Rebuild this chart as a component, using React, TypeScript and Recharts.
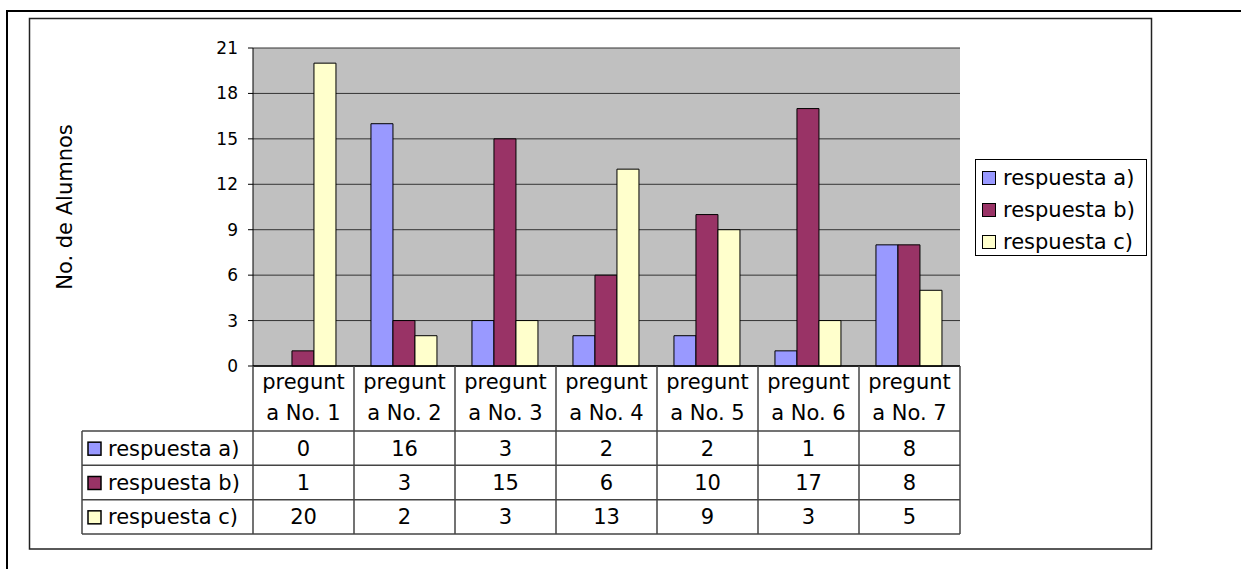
import React from 'react';
import { BarChart, Bar, XAxis, YAxis, CartesianGrid, Legend } from 'recharts';

const categories = [
  'pregunta No. 1',
  'pregunta No. 2',
  'pregunta No. 3',
  'pregunta No. 4',
  'pregunta No. 5',
  'pregunta No. 6',
  'pregunta No. 7',
];
const respuestaA = [0, 16, 3, 2, 2, 1, 8];
const respuestaB = [1, 3, 15, 6, 10, 17, 8];
const respuestaC = [20, 2, 3, 13, 9, 3, 5];
const yTicks = [0, 3, 6, 9, 12, 15, 18, 21];
const axisTitle = 'No. de Alumnos';

const series = [
  { key: 'a', name: 'respuesta a)', color: '#9999FF', values: respuestaA },
  { key: 'b', name: 'respuesta b)', color: '#993366', values: respuestaB },
  { key: 'c', name: 'respuesta c)', color: '#FFFFCC', values: respuestaC },
];

const data = categories.map((name, i) => {
  const row: Record<string, string | number> = { name };
  series.forEach(s => {
    row[s.key] = s.values[i];
  });
  return row;
});

const FONT = '"DejaVu Sans", Verdana, sans-serif';
const TABLE_H = 168;
const HEADER_H = 65;
const LABEL_LEFT = 82;
const LINE = '#444';

// Excel wraps the category name by characters inside the narrow column
const splitLabel = (text: string) => [text.slice(0, 7), text.slice(7)];

function TableTick(props: any) {
  const { x, y, payload, index, width } = props;
  const half = width ? width / categories.length / 2 : payload.offset;
  const left = x - half;
  const right = x + half;
  const rowH = (TABLE_H - HEADER_H) / series.length;
  const [l1, l2] = splitLabel(String(payload.value));
  const i = categories.indexOf(payload.value);

  return (
    <g fontFamily={FONT} fontSize={21} fill="#000">
      {index === 0 && <line x1={left} y1={y} x2={left} y2={y + TABLE_H} stroke={LINE} strokeWidth={1.5} />}
      <line x1={right} y1={y} x2={right} y2={y + TABLE_H} stroke={LINE} strokeWidth={1.5} />
      <text x={x} y={y + 23} textAnchor="middle">{l1}</text>
      <text x={x} y={y + 54} textAnchor="middle">{l2}</text>
      {series.map((s, r) => {
        const top = y + HEADER_H + r * rowH;
        return (
          <g key={s.key}>
            <line x1={left} y1={top} x2={right} y2={top} stroke={LINE} strokeWidth={1.5} />
            <text x={x} y={top + rowH / 2 + 7.5} textAnchor="middle">{s.values[i]}</text>
          </g>
        );
      })}
      <line x1={left} y1={y + TABLE_H} x2={right} y2={y + TABLE_H} stroke={LINE} strokeWidth={1.5} />
      {index === 0 && (
        <g>
          <line x1={LABEL_LEFT} y1={y + HEADER_H} x2={LABEL_LEFT} y2={y + TABLE_H} stroke={LINE} strokeWidth={1.5} />
          <line x1={LABEL_LEFT} y1={y + TABLE_H} x2={left} y2={y + TABLE_H} stroke={LINE} strokeWidth={1.5} />
          {series.map((s, r) => {
            const top = y + HEADER_H + r * rowH;
            return (
              <g key={s.key}>
                <line x1={LABEL_LEFT} y1={top} x2={left} y2={top} stroke={LINE} strokeWidth={1.5} />
                <rect x={LABEL_LEFT + 6} y={top + rowH / 2 - 6} width={13} height={13} fill={s.color} stroke="#000" strokeWidth={1.5} />
                <text x={LABEL_LEFT + 26} y={top + rowH / 2 + 7.5}>{s.name}</text>
              </g>
            );
          })}
        </g>
      )}
    </g>
  );
}

function YTitle(props: any) {
  const vb = props.viewBox || { x: 0, y: 48, width: 253, height: 318 };
  const cx = vb.x + 65;
  const cy = vb.y + vb.height / 2;
  return (
    <text
      x={cx}
      y={cy}
      transform={`rotate(-90, ${cx}, ${cy})`}
      textAnchor="middle"
      dominantBaseline="central"
      fontFamily={FONT}
      fontSize={21}
      fill="#000"
    >
      {axisTitle}
    </text>
  );
}

function LegendBox(props: any) {
  const payload = props.payload || [];
  return (
    <div
      style={{
        boxSizing: 'border-box',
        width: 172,
        height: 97,
        overflow: 'hidden',
        border: '1px solid #000',
        background: '#fff',
        padding: '2px 0 0 6px',
        fontFamily: FONT,
        fontSize: 21,
        color: '#000',
      }}
    >
      {payload.map((entry: any) => (
        <div key={entry.value} style={{ height: 32, display: 'flex', alignItems: 'center' }}>
          <span
            style={{
              display: 'inline-block',
              boxSizing: 'border-box',
              width: 14,
              height: 14,
              background: entry.color,
              border: '1.5px solid #000',
              marginRight: 7,
            }}
          />
          <span style={{ whiteSpace: 'nowrap' }}>{entry.value}</span>
        </div>
      ))}
    </div>
  );
}

export default function App() {
  return (
    <div style={{ position: 'relative', width: 1241, height: 569, background: '#fff', overflow: 'hidden' }}>
      <style>{'body { margin: 0; }'}</style>
      <svg width={1241} height={569} style={{ position: 'absolute', left: 0, top: 0 }}>
        <line x1={6} y1={11} x2={1241} y2={11} stroke="#000" strokeWidth={2} />
        <line x1={7} y1={10} x2={7} y2={569} stroke="#000" strokeWidth={2} />
        <rect x={29.5} y={18.5} width={1122} height={530.5} fill="none" stroke="#222" strokeWidth={1.5} />
      </svg>
      <div style={{ position: 'absolute', left: 0, top: 0 }}>
        <BarChart
          width={1241}
          height={569}
          data={data}
          margin={{ top: 48, right: 281, bottom: 35, left: 0 }}
          barCategoryGap="16.8%"
          barGap={0}
          style={{ fontFamily: FONT }}
        >
          <CartesianGrid vertical={false} fill="#C0C0C0" fillOpacity={1} stroke="#333" />
          <XAxis
            dataKey="name"
            height={168}
            interval={0}
            tickLine={false}
            tickSize={0}
            tickMargin={0}
            axisLine={{ stroke: '#000', strokeWidth: 1.5 }}
            tick={<TableTick />}
          />
          <YAxis
            width={253}
            domain={[0, 21]}
            ticks={yTicks}
            interval={0}
            tickSize={5}
            tickMargin={10}
            axisLine={{ stroke: '#000' }}
            tickLine={{ stroke: '#000' }}
            tick={{ fill: '#000', fontSize: 17, fontFamily: FONT }}
            label={{ content: <YTitle /> }}
          />
          <YAxis
            yAxisId="frame"
            orientation="right"
            width={0}
            domain={[0, 21]}
            tick={false}
            tickLine={false}
            axisLine={{ stroke: '#808080', strokeWidth: 2 }}
          />
          <Legend
            layout="horizontal"
            align="center"
            verticalAlign="middle"
            content={<LegendBox />}
            wrapperStyle={{ left: 975, top: 159, width: 172, height: 97 }}
          />
          {series.map(s => (
            <Bar
              key={s.key}
              dataKey={s.key}
              name={s.name}
              fill={s.color}
              stroke="#000"
              strokeWidth={1}
              isAnimationActive={false}
            />
          ))}
        </BarChart>
      </div>
    </div>
  );
}
